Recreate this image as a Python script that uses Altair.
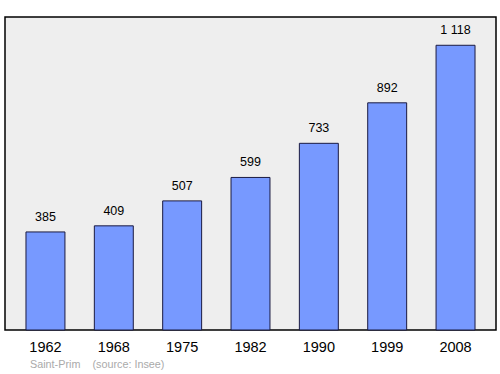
import altair as alt
import pandas as pd

years = ["1962", "1968", "1975", "1982", "1990", "1999", "2008"]
population = [385, 409, 507, 599, 733, 892, 1118]
labels = ["385", "409", "507", "599", "733", "892", "1 118"]

df = pd.DataFrame({"year": years, "pop": population, "label": labels})

x = alt.X("year:N", sort=years, title=None,
          scale=alt.Scale(paddingInner=0.43, paddingOuter=0.307),
          axis=alt.Axis(domain=False, ticks=False, labelAngle=0, labelFontSize=14.5,
                        labelFont="Liberation Sans", labelColor="#000000",
                        labelPadding=10))
y = alt.Y("pop:Q", scale=alt.Scale(domain=[0, 1229], nice=False, zero=True),
          axis=None)

bars = alt.Chart(df).mark_bar(color="#7799ff", stroke="#1a1a40", strokeWidth=1).encode(
    x=x, y=y)
text = alt.Chart(df).mark_text(dy=-8, baseline="bottom", fontSize=12.5,
                               font="Liberation Sans", color="#000000").encode(
    x=alt.X("year:N", sort=years), y=y, text="label:N")

chart = (bars + text).properties(
    width=491, height=313,
    title=alt.TitleParams("Saint-Prim\u00a0\u00a0\u00a0\u00a0(source: Insee)", orient="bottom",
                          anchor="start", fontSize=10.8, font="Liberation Sans",
                          fontWeight="normal", color="#aaaaaa", offset=5, dx=25),
    padding={"left": 5, "top": 17, "right": 4, "bottom": 44},
    autosize=alt.AutoSizeParams(type="none"),
).configure_view(fill="#eeeeee", stroke="#000000", strokeWidth=1.5)

chart.save("out.html", embed_options={"renderer": "svg", "actions": False})
